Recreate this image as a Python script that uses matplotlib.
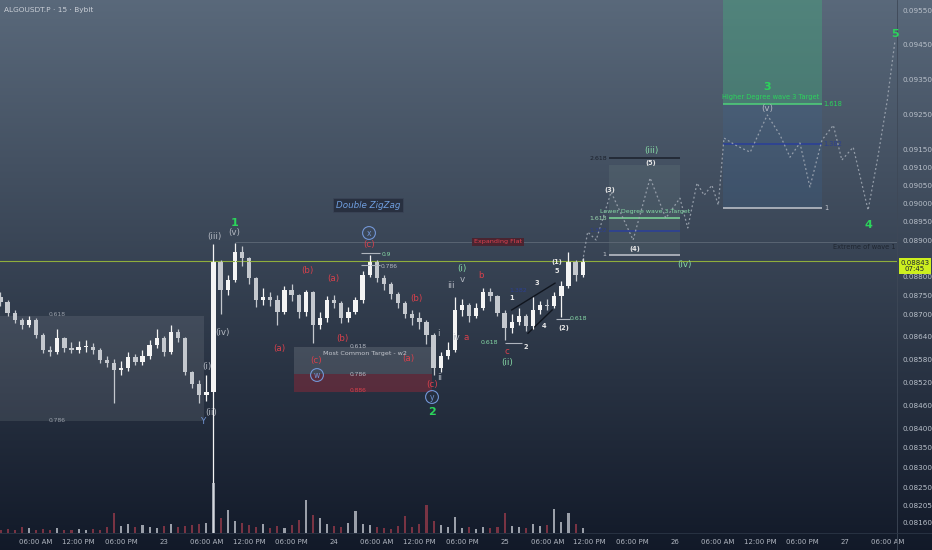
import numpy as np
import matplotlib.pyplot as plt
import matplotlib.transforms as mtransforms
from matplotlib.patches import Rectangle
from matplotlib.ticker import FixedLocator, FuncFormatter, NullLocator

# hourly candles, time in hours counted from the 22nd 00:00
hours = np.arange(1, 84)
first_open = 0.08745
closes = [0.08732, 0.08703, 0.08684, 0.08671, 0.08684, 0.08644, 0.08604, 0.08599, 0.08636, 0.08609,
          0.08604, 0.08612, 0.08612, 0.08604, 0.08578, 0.08570, 0.08552, 0.08557, 0.08586, 0.08573,
          0.08588, 0.08617, 0.08636, 0.08599, 0.08652, 0.08636, 0.08546, 0.08515, 0.08486, 0.08494,
          0.08840, 0.08764, 0.08791, 0.08866, 0.08850, 0.08796, 0.08737, 0.08745, 0.08737, 0.08705,
          0.08764, 0.08750, 0.08705, 0.08758, 0.08671, 0.08689, 0.08737, 0.08730, 0.08689, 0.08705,
          0.08737, 0.08804, 0.08840, 0.08796, 0.08780, 0.08753, 0.08729, 0.08700, 0.08689, 0.08679,
          0.08644, 0.08557, 0.08588, 0.08604, 0.08711, 0.08724, 0.08695, 0.08716, 0.08758, 0.08748,
          0.08703, 0.08663, 0.08679, 0.08695, 0.08668, 0.08711, 0.08724, 0.08722, 0.08748, 0.08775,
          0.08840, 0.08804, 0.08843]
highs = [0.08760, 0.08738, 0.08712, 0.08690, 0.08694, 0.08690, 0.08650, 0.08615, 0.08660, 0.08640,
         0.08625, 0.08628, 0.08630, 0.08622, 0.08610, 0.08590, 0.08582, 0.08575, 0.08600, 0.08595,
         0.08605, 0.08630, 0.08660, 0.08642, 0.08670, 0.08660, 0.08640, 0.08550, 0.08525, 0.08540,
         0.08890, 0.08845, 0.08805, 0.08891, 0.08885, 0.08855, 0.08800, 0.08770, 0.08760, 0.08750,
         0.08775, 0.08780, 0.08755, 0.08765, 0.08762, 0.08705, 0.08748, 0.08752, 0.08735, 0.08720,
         0.08745, 0.08815, 0.08858, 0.08845, 0.08805, 0.08785, 0.08760, 0.08735, 0.08710, 0.08705,
         0.08685, 0.08650, 0.08600, 0.08625, 0.08745, 0.08740, 0.08730, 0.08730, 0.08770, 0.08770,
         0.08752, 0.08710, 0.08700, 0.08715, 0.08700, 0.08745, 0.08735, 0.08740, 0.08760, 0.08790,
         0.08866, 0.08845, 0.08850]
lows = [0.08722, 0.08695, 0.08676, 0.08660, 0.08665, 0.08636, 0.08596, 0.08590, 0.08595, 0.08600,
        0.08596, 0.08598, 0.08600, 0.08595, 0.08570, 0.08560, 0.08465, 0.08540, 0.08550, 0.08565,
        0.08566, 0.08582, 0.08610, 0.08590, 0.08595, 0.08625, 0.08538, 0.08505, 0.08465, 0.08470,
        0.08120, 0.08700, 0.08750, 0.08785, 0.08830, 0.08780, 0.08720, 0.08725, 0.08722, 0.08670,
        0.08700, 0.08735, 0.08690, 0.08695, 0.08623, 0.08660, 0.08680, 0.08715, 0.08675, 0.08680,
        0.08700, 0.08730, 0.08800, 0.08785, 0.08765, 0.08740, 0.08715, 0.08690, 0.08670, 0.08660,
        0.08620, 0.08540, 0.08548, 0.08580, 0.08600, 0.08695, 0.08680, 0.08690, 0.08710, 0.08735,
        0.08695, 0.08631, 0.08650, 0.08672, 0.08655, 0.08660, 0.08700, 0.08710, 0.08715, 0.08692,
        0.08770, 0.08790, 0.08800]
volume = [0.3, 0.4, 0.3, 0.6, 0.5, 0.3, 0.4, 0.3, 0.5, 0.3,
          0.3, 0.4, 0.3, 0.4, 0.3, 0.6, 2.0, 0.7, 0.9, 0.6,
          0.8, 0.6, 0.5, 0.7, 0.9, 0.6, 0.7, 0.8, 0.9, 1.0,
          5.0, 1.5, 2.3, 1.2, 1.0, 0.8, 0.6, 0.9, 0.5, 0.7,
          0.5, 0.8, 1.3, 3.3, 1.8, 1.5, 0.9, 0.7, 0.6, 1.0,
          2.2, 0.9, 0.8, 0.6, 0.5, 0.4, 0.7, 1.7, 0.6, 0.9,
          2.8, 1.2, 0.8, 0.6, 1.6, 0.5, 0.6, 0.4, 0.6, 0.5,
          0.6, 2.0, 0.7, 0.6, 0.5, 0.9, 0.7, 0.8, 2.4, 1.1,
          2.0, 0.9, 0.5]
last_price = 0.08843

# projected path (dotted)
proj_t = [83.0, 83.7, 84.9, 87.0, 90.1, 92.5, 94.7, 96.7, 97.8, 99.1, 100.1, 101.2, 102.1, 102.9, 104.5,
          106.6, 109.0, 110.8, 112.2, 113.6, 115.0, 116.7, 118.3, 119.5, 121.1, 123.2, 124.5, 125.9, 127.0]
proj_p = [0.08843, 0.08922, 0.08900, 0.09032, 0.08900, 0.09071, 0.08960, 0.09015, 0.08933, 0.09057,
          0.09023, 0.09051, 0.08996, 0.09183, 0.09163, 0.09143, 0.09248, 0.09191, 0.09129, 0.09169,
          0.09046, 0.09177, 0.09219, 0.09121, 0.09157, 0.08982, 0.09121, 0.09290, 0.09463]

# fib targets
lower_span = (86.7, 96.7)
lower_prices = [0.09127, 0.08960, 0.08924, 0.08859]
lower_box = (0.08859, 0.09107)
higher_span = (102.8, 116.7)
higher_prices = [0.09279, 0.09166, 0.08988]
left_span = (0.93, 29.7)
left_box = (0.08419, 0.08695)
w2_span = (42.3, 61.8)
w2_levels = [0.08612, 0.08541, 0.08494]
retrace_span = (51.8, 54.5)
retrace_levels = [0.08864, 0.08832]
ii_span, ii_level = (72.1, 74.5), 0.08623
w2sub_span, w2sub_level = (79.2, 81.2), 0.08687
wedge_up_t, wedge_up_p = [73.0, 79.1], [0.08711, 0.08783]
wedge_lo_t, wedge_lo_p = [75.3, 78.7], [0.08649, 0.08711]
extreme_w1 = 0.08894

price_ticks = [0.0955, 0.0945, 0.0935, 0.0925, 0.0915, 0.0910, 0.0905, 0.0900, 0.0895, 0.0890,
               0.0880, 0.0875, 0.0870, 0.0864, 0.0858, 0.0852, 0.0846, 0.0840, 0.0835, 0.0830,
               0.0825, 0.08205, 0.0816]
time_ticks = list(range(6, 127, 6))


def time_label(h, pos=None):
    d, r = divmod(int(h), 24)
    if r == 0:
        return str(22 + d)
    return {6: '06:00 AM', 12: '12:00 PM', 18: '06:00 PM'}[r]


W, H = 932, 550
fig = plt.figure(figsize=(W / 100, H / 100), dpi=100)

# background gradient
bg = fig.add_axes([0, 0, 1, 1], zorder=-10)
top = np.array([0.35, 0.41, 0.48])
bot = np.array([0.07, 0.10, 0.16])
g = np.linspace(0, 1, 256)[:, None, None]
bg.imshow(top * (1 - g) + bot * g, aspect='auto', extent=[0, 1, 0, 1])
bg.axis('off')

rect = [0, 17 / H, 897 / W, 533 / H]
ax = fig.add_axes(rect, facecolor='none')
ax.set_yscale('log')
ax.set_xlim(0.93, 127.27)
ax.set_ylim(0.08135, 0.0958)
for s in ax.spines.values():
    s.set_visible(False)
ax.yaxis.tick_right()
ax.yaxis.set_major_locator(FixedLocator(price_ticks))
ax.yaxis.set_major_formatter(FuncFormatter(lambda v, p: f'{v:.5f}'))
ax.yaxis.set_minor_locator(NullLocator())
ax.xaxis.set_major_locator(FixedLocator(time_ticks))
ax.xaxis.set_major_formatter(FuncFormatter(time_label))
ax.tick_params(axis='y', length=0, pad=4, labelsize=5.2, labelcolor='#b9c0ca')
ax.tick_params(axis='x', length=0, pad=4, labelsize=5.0, labelcolor='#b0b6c0')

# volume pane
vax = fig.add_axes([0, 17 / H, 897 / W, 110 / H], facecolor='none', sharex=ax)
vax.set_ylim(0, 11)
vax.axis('off')

opens = [first_open] + closes[:-1]
up = np.array(closes) >= np.array(opens)
ccol = np.where(up, '#f4f4f4', '#c4c8ce')
vcol = np.where(up, '#c8ccd4', '#9c3c4c')
vax.bar(hours, volume, width=0.3, color=vcol, alpha=0.75)

# zones
ax.add_patch(Rectangle((left_span[0], left_box[0]), left_span[1] - left_span[0],
                       left_box[1] - left_box[0], color='white', alpha=0.09, lw=0))
ax.add_patch(Rectangle((w2_span[0], w2_levels[1]), w2_span[1] - w2_span[0],
                       w2_levels[0] - w2_levels[1], color='white', alpha=0.12, lw=0))
ax.add_patch(Rectangle((w2_span[0], w2_levels[2]), w2_span[1] - w2_span[0],
                       w2_levels[1] - w2_levels[2], color='#8a2a3a', alpha=0.5, lw=0))
ax.add_patch(Rectangle((lower_span[0], lower_box[0]), lower_span[1] - lower_span[0],
                       lower_box[1] - lower_box[0], color='#9fc0ae', alpha=0.10, lw=0))
ax.add_patch(Rectangle((higher_span[0], higher_prices[0]), higher_span[1] - higher_span[0],
                       0.0958 - higher_prices[0], color='#45b07f', alpha=0.38, lw=0))
ax.add_patch(Rectangle((higher_span[0], higher_prices[2]), higher_span[1] - higher_span[0],
                       higher_prices[0] - higher_prices[2], color='#3a6fa8', alpha=0.18, lw=0))

# level lines
ax.axhline(last_price, color='#8fae3c', lw=0.8)
ax.hlines(extreme_w1, 34, 127.27, color='#5f6977', lw=0.6)
lower_cols = ['#1b202b', '#7ed99a', '#2a3f9a', '#c3c7ce']
for p, c in zip(lower_prices, lower_cols):
    ax.hlines(p, *lower_span, color=c, lw=1.1)
for p, c in zip(higher_prices, lower_cols[1:]):
    ax.hlines(p, *higher_span, color=('#4fd27a' if c == '#7ed99a' else c), lw=1.1)
for p in retrace_levels:
    ax.hlines(p, *retrace_span, color='#aeb4bd', lw=0.8)
ax.hlines(ii_level, *ii_span, color='#aeb4bd', lw=0.8)
ax.hlines(w2sub_level, *w2sub_span, color='#aeb4bd', lw=0.8)
ax.plot(wedge_up_t, wedge_up_p, color='#10151e', lw=1.0)
ax.plot(wedge_lo_t, wedge_lo_p, color='#10151e', lw=1.0)

# candles
ax.vlines(hours, lows, highs, color=ccol, lw=0.9)
body_lo = np.minimum(opens, closes)
body_h = np.maximum(np.abs(np.array(closes) - np.array(opens)), 0.00002)
ax.bar(hours, body_h, bottom=body_lo, width=0.6, color=ccol, lw=0)

# projection
ax.plot(proj_t, proj_p, color='#a3abb6', lw=0.9, ls=(0, (1.5, 2)), alpha=0.85)

# separators
fig.add_artist(plt.Line2D([897 / W, 897 / W], [0, 1], color='#3e4857', lw=0.6))
fig.add_artist(plt.Line2D([0, 1], [17 / H, 17 / H], color='#2c3646', lw=0.6))

# text labels placed in screen pixels (from top-left)
px = mtransforms.Affine2D().scale(1 / W, -1 / H).translate(0, 1) + fig.transFigure


def lbl(x, y, s, c, size=6.3, **kw):
    kw.setdefault('ha', 'center')
    fig.text(x, y, s, color=c, fontsize=size, va='center', transform=px, **kw)


G, T, R, GR, WH, NV, BL = '#2bd45b', '#86d9a6', '#d8404c', '#b4b9c2', '#e6e6e6', '#2c3f8f', '#7396d6'

lbl(4, 10, 'ALGOUSDT.P · 15 · Bybit', '#c9ced6', 5.3, ha='left')
lbl(57, 315, '0.618', '#9aa0aa', 4.3)
lbl(57, 421, '0.786', '#9aa0aa', 4.3)

for x, y, s, c in [(234, 232, '(v)', GR), (214, 237, '(iii)', GR), (222, 332, '(iv)', GR),
                   (207, 366, '(i)', GR), (211, 412, '(ii)', GR), (204, 421, 'Y', BL),
                   (279, 349, '(a)', R), (307, 270, '(b)', R), (333, 278, '(a)', R),
                   (342, 339, '(b)', R), (316, 361, '(c)', R), (369, 245, '(c)', R),
                   (416, 299, '(b)', R), (408, 359, '(a)', R), (432, 385, '(c)', R),
                   (440, 377, 'ii', GR), (438, 333, 'i', GR), (451, 286, 'iii', GR),
                   (456, 337, 'iv', GR), (462, 279, 'v', GR), (466, 337, 'a', R),
                   (462, 268, '(i)', T), (507, 362, '(ii)', T), (651, 150, '(iii)', T),
                   (684, 265, '(iv)', T), (481, 275, 'b', R), (507, 352, 'c', R),
                   (767, 109, '(v)', GR)]:
    lbl(x, y, s, c)

for x, y, s in [(317, 375, 'w'), (369, 233, 'x'), (432, 397, 'y')]:
    lbl(x, y, s, BL, 5.5, bbox=dict(boxstyle='circle,pad=0.25', fc='none', ec=BL, lw=0.8))

for x, y, s in [(235, 223, '1'), (432, 412, '2'), (767, 87, '3'), (868, 225, '4'), (895, 34, '5')]:
    lbl(x, y, s, G, 8, fontweight='bold')

for x, y, s in [(512, 298, '1'), (526, 347, '2'), (537, 283, '3'), (544, 326, '4'),
                (557, 271, '5'), (557, 262, '(1)'), (564, 328, '(2)'), (651, 163, '(5)'),
                (610, 190, '(3)'), (635, 249, '(4)')]:
    lbl(x, y, s, WH, 4.8, fontweight='bold')

lbl(489, 343, '0.618', T, 4.5)
lbl(578, 319, '0.618', T, 4.5)
lbl(518, 291, '1.382', NV, 4.5)
lbl(386, 254, '0.9', T, 4.3)
lbl(389, 266, '0.786', GR, 4.3)
lbl(358, 347, '0.618', GR, 4.3)
lbl(365, 354, 'Most Common Target - w2', '#c3c7ce', 4.6)
lbl(358, 375, '0.786', GR, 4.3)
lbl(358, 391, '0.886', R, 4.3)

lbl(368, 205, 'Double ZigZag', '#6f9fe0', 6.3, style='italic',
    bbox=dict(boxstyle='square,pad=0.3', fc='#283040', ec='#3a4456', lw=0.6))
lbl(498, 242, 'Expanding Flat', '#e0414f', 4.6,
    bbox=dict(boxstyle='square,pad=0.3', fc='#4a2430', ec='none'))

lbl(598, 158, '2.618', '#1b202b', 4.5)
lbl(598, 218, '1.618', '#9dd9b0', 4.5)
lbl(598, 231, '1.382', NV, 4.5)
lbl(604, 255, '1', '#c3c7ce', 4.5)
lbl(645, 211, 'Lower Degree wave 3 Target', T, 4.5)
lbl(771, 97, 'Higher Degree wave 3 Target', G, 4.8)
lbl(833, 104, '1.618', G, 4.8)
lbl(833, 144, '1.382', NV, 4.8)
lbl(826, 208, '1', '#c3c7ce', 4.8)
lbl(864, 247, 'Extreme of wave 1', '#1f2631', 4.8)

lbl(915, 266, '0.08843\n07:45', '#1d2430', 5.0, linespacing=1.1,
    bbox=dict(boxstyle='square,pad=0.25', fc='#cdef1f', ec='none'))

fig.savefig('out.png', dpi=100)
